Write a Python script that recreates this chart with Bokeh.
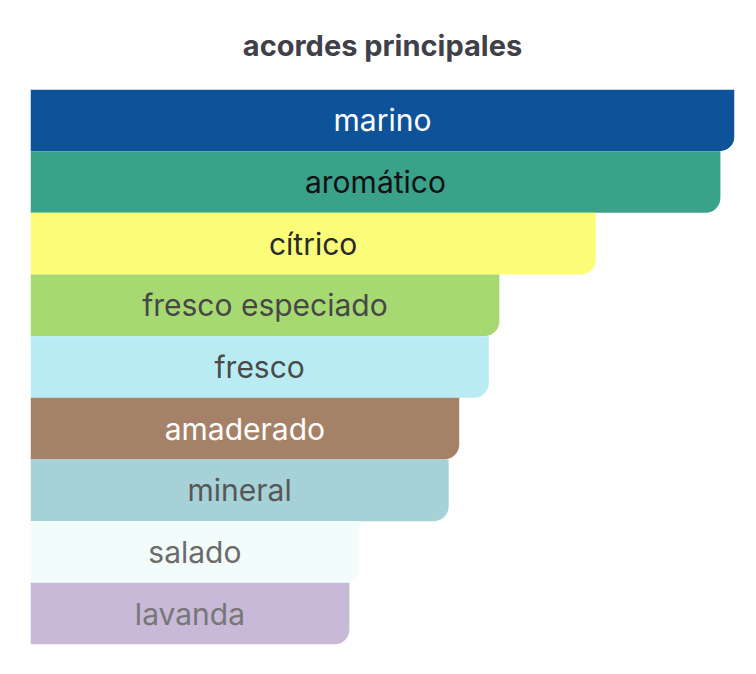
from bokeh.plotting import figure
from bokeh.models import ColumnDataSource, Range1d
from bokeh.core.properties import value
from bokeh.embed import file_html
from bokeh.resources import INLINE

accords = ["marino", "aromático", "cítrico", "fresco especiado", "fresco",
           "amaderado", "mineral", "salado", "lavanda"]
strength = [100, 98, 80.3, 66.6, 65.1, 60.9, 59.4, 46.7, 45.3]
bar_colors = ["#0e5399", "#3aa18a", "#fbfd78", "#a7d972", "#b8ecf2",
              "#a58267", "#a6d1d7", "#f2fcfa", "#c8b9d9"]
text_colors = ["#ffffff", "#111111", "#2a2a2a", "#474747", "#4a4a4a",
               "#ffffff", "#575757", "#6b6b6b", "#777777"]

n = len(accords)
ypos = [n - i for i in range(n)]
src = ColumnDataSource(dict(
    name=accords, val=strength, y=ypos,
    mid=[v / 2 for v in strength],
    color=bar_colors, tcolor=text_colors,
))

p = figure(width=750, height=662, output_backend="svg", toolbar_location=None,
           x_range=Range1d(0, 100), y_range=Range1d(0.5, n + 0.5),
           min_border_left=30, min_border_right=16, min_border_top=89,
           min_border_bottom=18)
p.title.text = "acordes principales"
p.title.align = "center"
p.title.vertical_align = "top"
p.title.text_font = "Inter"
p.title.text_font_size = "29px"
p.title.text_font_style = "bold"
p.title.text_color = "#40404a"
p.title.offset = 0
p.title.standoff = 50

p.hbar(y="y", left=0, right="val", height=1.0, color="color", source=src,
       line_color=None, border_radius=(0, 0, 15, 0))
p.text(x="mid", y="y", text="name", text_color="tcolor", source=src,
       text_align="center", text_baseline="middle",
       text_font=value("Inter"), text_font_size="30px")

p.axis.visible = False
p.grid.visible = False
p.outline_line_color = None
p.background_fill_color = "white"
p.border_fill_color = "white"

open("out.html", "w").write(file_html(p, INLINE))
